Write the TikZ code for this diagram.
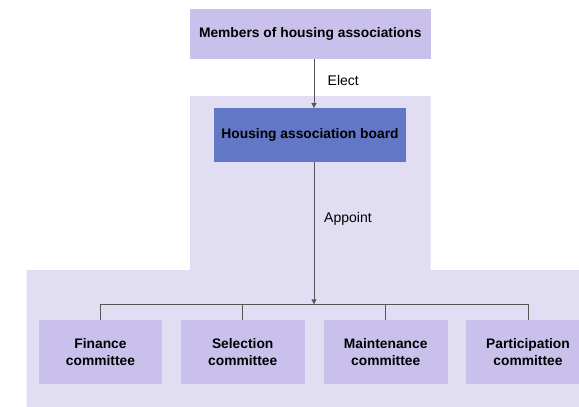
\documentclass[tikz,border=0pt]{standalone}
\usepackage{fontspec}
\setmainfont{Liberation Sans}
\usetikzlibrary{arrows.meta}
\definecolor{bgpanel}{HTML}{E1DDF3}
\definecolor{boxlav}{HTML}{C9C0EB}
\definecolor{boardblue}{HTML}{6277C5}
\definecolor{linegray}{HTML}{555555}
\begin{document}
\begin{tikzpicture}[x=1pt,y=-1pt,
  box/.style={fill=boxlav, draw=none, inner sep=0pt, align=center,
    font=\fontsize{13.8}{17.3}\selectfont\bfseries},
  link/.style={draw=linegray, line width=0.9pt},
  arr/.style={link, -{Triangle[length=5pt,width=5pt]}},
  lbl/.style={font=\fontsize{14}{17}\selectfont, anchor=west, inner sep=0pt}]
\useasboundingbox (0,0) rectangle (579,407);
% background panel: board area on top, committee band below
\fill[bgpanel] (190,96) -- (430.5,96) -- (430.5,270) -- (579,270) -- (579,407)
  -- (26.5,407) -- (26.5,270) -- (190,270) -- cycle;
% top and board boxes
\node[box, minimum width=240.5pt, minimum height=50pt] (members) at (310.25,34) {Members of housing associations};
\node[box, fill=boardblue, minimum width=191.5pt, minimum height=53.5pt] (board) at (310,135) {Housing association board};
% committees
\node[box, minimum width=123pt, minimum height=64pt] (fin) at (100.5,352) {Finance\\committee};
\node[box, minimum width=124pt, minimum height=64pt] (sel) at (242.7,352) {Selection\\committee};
\node[box, minimum width=124pt, minimum height=64pt] (mai) at (385.7,352) {Maintenance\\committee};
\node[box, minimum width=124pt, minimum height=64pt] (par) at (528,352) {Participation\\committee};
% connectors
\coordinate (bus) at (314,304.3);
\draw[arr] (members.south -| bus) -- (board.north -| bus);
\draw[arr] (board.south -| bus) -- (bus);
\draw[link] (fin.north) |- (bus) -| (par.north);
\draw[link] (sel.north) -- (sel.north |- bus);
\draw[link] (mai.north) -- (mai.north |- bus);
% labels
\node[lbl] (elect) at (327.5,80) {Elect};
\node[lbl] (appoint) at (324,219) {Appoint};
\end{tikzpicture}
\end{document}
